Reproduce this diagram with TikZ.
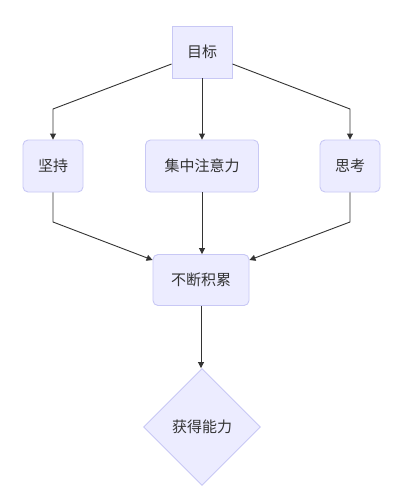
\documentclass[tikz,border=0pt]{standalone}
\usepackage{fontspec}
\setmainfont{Noto Sans CJK SC}
\usetikzlibrary{shapes.geometric,arrows.meta}
\definecolor{nfill}{HTML}{ECECFF}
\definecolor{nline}{HTML}{C8C8F5}
\definecolor{tcol}{HTML}{333333}
\begin{document}
\begin{tikzpicture}[x=1pt,y=-1pt,
  base/.style={draw=nline,fill=nfill,line width=0.9pt,text=tcol,font=\fontsize{15}{18}\selectfont,inner sep=0pt},
  sq/.style={base,rectangle,minimum height=52pt},
  rbox/.style={base,rectangle,rounded corners=5pt,minimum height=52pt},
  dia/.style={base,diamond,minimum width=117pt,minimum height=117pt},
  conn/.style={draw=tcol,line width=0.9pt,-{Triangle[length=6pt,width=6pt]}}]
\fill[white] (0,0) rectangle (418,503);
\useasboundingbox (0,0) rectangle (418,503);
\node[sq,minimum width=60pt] (goal) at (202,52) {目标};
\node[rbox,minimum width=60pt] (keep) at (53,166) {坚持};
\node[rbox,minimum width=113pt] (focus) at (202,166) {集中注意力};
\node[rbox,minimum width=60pt] (think) at (350,166) {思考};
\node[rbox,minimum width=96pt,minimum height=51pt] (acc) at (201,280) {不断积累};
\node[dia] (gain) at (202,427) {获得能力};
\coordinate (l1) at (53,109);
\coordinate (r1) at (350,109);
\coordinate (l2) at (53,222);
\coordinate (r2) at (350,222);
\draw[conn] (goal.west |- 0,64) -- (l1) -- (keep.north);
\draw[conn] (goal.south) -- (focus.north);
\draw[conn] (goal.east |- 0,64) -- (r1) -- (think.north);
\draw[conn] (keep.south) -- (l2) -- (acc.west |- 0,260);
\draw[conn] (focus.south) -- (focus.south |- acc.north);
\draw[conn] (think.south) -- (r2) -- (acc.east |- 0,260);
\draw[conn] (acc.south) -- (acc.south |- gain.north);
\end{tikzpicture}
\end{document}
